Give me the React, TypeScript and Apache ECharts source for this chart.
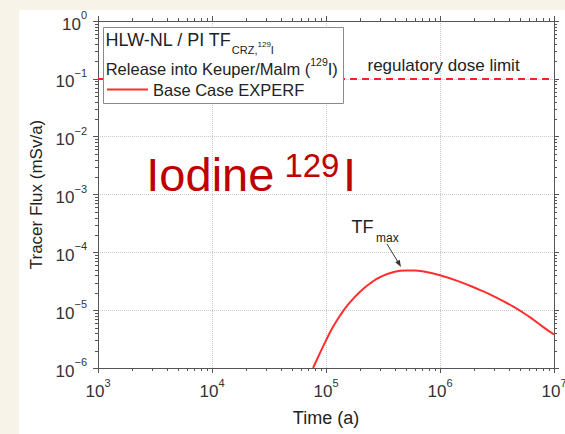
import React, { useEffect, useRef } from 'react';
import * as echarts from 'echarts';

// ---- data ----
const timeYears = [7.7e4, 1e5, 1.15e5, 1.33e5, 1.6e5, 2e5, 2.5e5, 3e5, 4e5, 5e5, 6e5, 7e5, 1e6, 1.5e6, 2.2e6, 3e6, 4.4e6, 6e6, 8e6, 1e7];
const fluxBaseCase = [1.0e-6, 3.0e-6, 5.1e-6, 8.1e-6, 1.32e-5, 2.1e-5, 3.0e-5, 3.75e-5, 4.6e-5, 4.86e-5, 4.86e-5, 4.72e-5, 4.02e-5, 3.09e-5, 2.27e-5, 1.72e-5, 1.15e-5, 7.8e-6, 5.15e-6, 3.8e-6];
const regulatoryLimit = 0.1;
const xRange = [1e3, 1e7];
const yRange = [1e-6, 1];
const xMinorDecades = [3, 4, 5, 6];
const yMinorDecades = [-6, -5, -4, -3, -2, -1];
const minorMultipliers = [2, 3, 4, 5, 6, 7, 8, 9];
const seriesName = 'Base Case EXPERF';

const FONT = 'Arial, "Liberation Sans", Helvetica, sans-serif';
const AXIS = '#555';
const TXT = '#222';

const minorX: number[] = [];
xMinorDecades.forEach((d) => minorMultipliers.forEach((m) => minorX.push(m * Math.pow(10, d))));
const minorY: number[] = [];
yMinorDecades.forEach((d) => minorMultipliers.forEach((m) => minorY.push(m * Math.pow(10, d))));

const expLabel = (v: number) => {
  const e = Math.round(Math.log10(v));
  const s = e < 0 ? '\u2212' + -e : String(e);
  return `{b|10}{s|${s}}`;
};
const tickRich = {
  b: { fontSize: 17, fontFamily: FONT, color: '#333', padding: [6, 0, 0, 0], verticalAlign: 'top' },
  s: { fontSize: 11, fontFamily: FONT, color: '#333', verticalAlign: 'top' },
};

const txt = (text: string, x: number, y: number, size: number, color = TXT, extra: any = {}) => ({
  type: 'text',
  x,
  y,
  z: 101,
  silent: true,
  style: {
    text,
    fill: color,
    fontSize: size,
    fontFamily: FONT,
    align: 'left',
    verticalAlign: 'middle',
    textAlign: 'left',
    textVerticalAlign: 'middle',
    ...extra,
  },
});

const richTxt = (text: string, x: number, y: number, rich: any) => ({
  type: 'text',
  x,
  y,
  z: 101,
  silent: true,
  style: {
    text,
    fill: TXT,
    fontFamily: FONT,
    align: 'left',
    verticalAlign: 'top',
    textAlign: 'left',
    textVerticalAlign: 'top',
    rich,
  },
});

export default function App() {
  const ref = useRef<HTMLDivElement>(null);
  useEffect(() => {
    if (!ref.current) return;
    const chart = echarts.init(ref.current, undefined, { renderer: 'svg' });
    const lineData = timeYears.map((t, i) => [t, fluxBaseCase[i]]);

    const option: any = {
      animation: false,
      backgroundColor: '#f7f3e8',
      grid: { left: 98, right: 11, top: 21, bottom: 66, containLabel: false, outerBoundsMode: 'none' },
      legend: {
        data: [seriesName],
        left: 107,
        top: 81,
        padding: 0,
        z: 200,
        icon: 'rect',
        itemWidth: 41,
        itemHeight: 2,
        textStyle: { fontSize: 16.5, fontFamily: FONT, color: TXT },
        selectedMode: false,
      },
      xAxis: [
        {
          type: 'log',
          logBase: 10,
          min: xRange[0],
          max: xRange[1],
          splitNumber: 4,
          position: 'bottom',
          axisLine: { show: true, lineStyle: { color: AXIS, width: 1 } },
          axisTick: { show: true, inside: false, length: 5, lineStyle: { color: AXIS } },
          axisLabel: { formatter: expLabel, rich: tickRich, margin: 9 },
          splitLine: { show: true, lineStyle: { color: '#c8c8c8', type: 'dotted', width: 1 } },
          name: 'Time (a)',
          nameLocation: 'middle',
          nameGap: 41,
          nameTextStyle: { fontSize: 18, fontFamily: FONT, color: TXT },
        },
        {
          type: 'log',
          logBase: 10,
          min: xRange[0],
          max: xRange[1],
          splitNumber: 4,
          position: 'top',
          axisLine: { show: true, lineStyle: { color: AXIS, width: 1 } },
          axisTick: { show: true, inside: false, length: 5, lineStyle: { color: AXIS } },
          axisLabel: { show: false },
          splitLine: { show: false },
        },
      ],
      yAxis: [
        {
          type: 'log',
          logBase: 10,
          min: yRange[0],
          max: yRange[1],
          splitNumber: 6,
          position: 'left',
          axisLine: { show: true, lineStyle: { color: AXIS, width: 1 } },
          axisTick: { show: true, inside: false, length: 5, lineStyle: { color: AXIS } },
          axisLabel: { formatter: expLabel, rich: tickRich, margin: 11 },
          splitLine: { show: true, lineStyle: { color: '#c8c8c8', type: 'dotted', width: 1 } },
          name: 'Tracer Flux (mSv/a)',
          nameLocation: 'middle',
          nameGap: 51,
          nameTextStyle: { fontSize: 17, fontFamily: FONT, color: TXT },
        },
        {
          type: 'log',
          logBase: 10,
          min: yRange[0],
          max: yRange[1],
          splitNumber: 6,
          position: 'right',
          axisLine: { show: true, lineStyle: { color: AXIS, width: 1 } },
          axisTick: { show: true, inside: false, length: 5, lineStyle: { color: AXIS } },
          axisLabel: { show: false },
          splitLine: { show: false },
        },
      ],
      series: [
        {
          name: seriesName,
          type: 'line',
          data: lineData,
          showSymbol: false,
          smooth: true,
          lineStyle: { color: '#ff2e2e', width: 2 },
          itemStyle: { color: '#ff2e2e' },
          z: 3,
          markLine: {
            silent: true,
            symbol: ['none', 'none'],
            label: { show: false },
            lineStyle: { color: '#ff2020', type: [7, 5], width: 2 },
            data: [{ yAxis: regulatoryLimit }],
          },
        },
        {
          type: 'custom',
          silent: true,
          clip: false,
          data: minorX.map((v) => [v, yRange[0]]),
          renderItem: (_p: any, api: any) => {
            const v = api.value(0);
            const b = api.coord([v, yRange[0]]);
            const t = api.coord([v, yRange[1]]);
            const x = Math.round(b[0]) + 0.5;
            const st = { stroke: AXIS, lineWidth: 1 };
            return {
              type: 'group',
              children: [
                { type: 'line', shape: { x1: x, y1: b[1], x2: x, y2: b[1] + 3 }, style: st },
                { type: 'line', shape: { x1: x, y1: t[1], x2: x, y2: t[1] - 3 }, style: st },
              ],
            };
          },
        },
        {
          type: 'custom',
          silent: true,
          clip: false,
          data: minorY.map((v) => [xRange[0], v]),
          renderItem: (_p: any, api: any) => {
            const v = api.value(1);
            const l = api.coord([xRange[0], v]);
            const r = api.coord([xRange[1], v]);
            const y = Math.round(l[1]) + 0.5;
            const st = { stroke: AXIS, lineWidth: 1 };
            return {
              type: 'group',
              children: [
                { type: 'line', shape: { x1: l[0], y1: y, x2: l[0] - 3, y2: y }, style: st },
                { type: 'line', shape: { x1: r[0], y1: y, x2: r[0] + 3, y2: y }, style: st },
              ],
            };
          },
        },
      ],
      graphic: [
        {
          type: 'rect',
          z: -100,
          silent: true,
          shape: { x: 19, y: 10, width: 546, height: 424 },
          style: { fill: '#ffffff' },
        },
        {
          type: 'rect',
          z: 100,
          silent: true,
          shape: { x: 103.5, y: 27.5, width: 240, height: 76 },
          style: { fill: '#ffffff', stroke: '#8a8a8a', lineWidth: 1 },
        },
        richTxt('{a|HLW-NL / PI TF}{sub|CRZ,}{ss|129}{sub|I}', 105.5, 31, {
          a: { fontSize: 18, fontFamily: FONT, color: TXT, verticalAlign: 'top' },
          sub: { fontSize: 11, fontFamily: FONT, color: TXT, verticalAlign: 'top', padding: [13.5, 0, 0, 0] },
          ss: { fontSize: 8, fontFamily: FONT, color: TXT, verticalAlign: 'top', padding: [9, 0, 0, 0] },
        }),
        richTxt('{a|Release into Keuper/Malm (}{sup|129}{a|I)}', 105.7, 56.75, {
          a: { fontSize: 16.5, fontFamily: FONT, color: TXT, verticalAlign: 'top', padding: [4, 0, 0, 0] },
          sup: { fontSize: 10.5, fontFamily: FONT, color: TXT, verticalAlign: 'top' },
        }),
        txt('regulatory dose limit', 367.5, 65, 17),
        txt('Iodine', 146.3, 174.5, 47, '#c00000'),
        txt('129', 284.4, 165, 33, '#c00000'),
        txt('I', 342.9, 174.5, 47, '#c00000'),
        txt('TF', 351.5, 227, 18),
        txt('max', 376, 238, 12),
        {
          type: 'line',
          z: 101,
          silent: true,
          shape: { x1: 387, y1: 244, x2: 399.5, y2: 264.5 },
          style: { stroke: '#333', lineWidth: 1 },
        },
        {
          type: 'polygon',
          z: 101,
          silent: true,
          shape: { points: [[401, 267], [395.3, 262.3], [399.7, 259.7]] },
          style: { fill: '#333' },
        },
      ],
    };
    chart.setOption(option);
    return () => chart.dispose();
  }, []);
  return <div ref={ref} style={{ position: 'absolute', left: 0, top: 0, width: 565, height: 434 }} />;
}
